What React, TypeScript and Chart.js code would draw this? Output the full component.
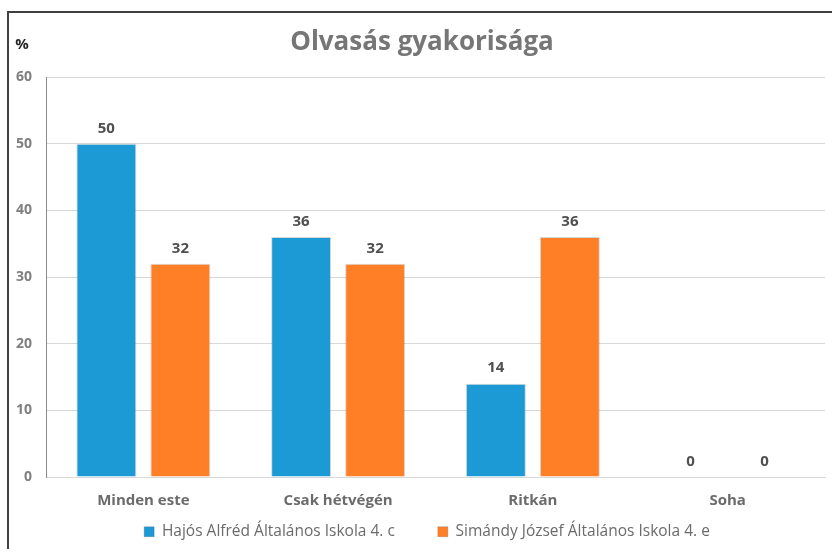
import React, { useEffect, useRef } from "react";
import { Chart, registerables } from "chart.js";

Chart.register(...registerables);

const categories = ["Minden este", "Csak hétvégén", "Ritkán", "Soha"];
const seriesNames = ["Hajós Alfréd Általános Iskola 4. c", "Simándy József Általános Iskola 4. e"];
const hajosValues = [50, 36, 14, 0];
const simandyValues = [32, 32, 36, 0];
const yTicks = [0, 10, 20, 30, 40, 50, 60];
const titleText = "Olvasás gyakorisága";
const yUnit = "%";

const FONT = "'Open Sans', 'Noto Sans', sans-serif";
const LEGEND_GAP = 43;
const LEGEND_HEIGHT = 35;
const LEGEND_TOP_PAD = 10;

const labelPlugin = {
  id: "valueLabels",
  afterInit(chart: any) {
    const lg = chart.legend;
    if (lg) {
      const orig = lg.fit;
      lg.fit = function () {
        orig.call(this);
        this.height = LEGEND_HEIGHT;
      };
    }
  },
  afterLayout(chart: any) {
    const lg = chart.legend;
    if (lg) {
      lg.top -= LEGEND_GAP - LEGEND_TOP_PAD;
      lg.left += 10;
      lg.right += 10;
    }
    const tb = chart.titleBlock;
    if (tb) {
      tb.left += 5;
      tb.right += 5;
    }
  },
  afterDatasetsDraw(chart: any) {
    const ctx = chart.ctx;
    ctx.save();
    ctx.font = `bold 15px ${FONT}`;
    ctx.fillStyle = "#505050";
    ctx.textAlign = "center";
    ctx.textBaseline = "bottom";
    chart.data.datasets.forEach((ds: any, di: number) => {
      const meta = chart.getDatasetMeta(di);
      meta.data.forEach((bar: any, i: number) => {
        ctx.fillText(String(ds.data[i]), bar.x, bar.y - 8);
      });
    });
    ctx.font = `bold 15px ${FONT}`;
    ctx.fillStyle = "#262626";
    ctx.textAlign = "center";
    ctx.textBaseline = "middle";
    ctx.fillText(yUnit, 13, 32);
    ctx.restore();
  },
};

export default function App() {
  const ref = useRef<HTMLCanvasElement>(null);
  useEffect(() => {
    document.body.style.overflow = "hidden";
    const chart = new Chart(ref.current!, {
      type: "bar",
      data: {
        labels: categories,
        datasets: [
          {
            label: seriesNames[0],
            data: hajosValues,
            backgroundColor: "#1B9AD6",
            borderColor: "rgba(90,90,90,0.25)",
            borderWidth: 1,
            categoryPercentage: 0.76,
            barPercentage: 0.81,
          },
          {
            label: seriesNames[1],
            data: simandyValues,
            backgroundColor: "#FF7F27",
            borderColor: "rgba(90,90,90,0.25)",
            borderWidth: 1,
            categoryPercentage: 0.76,
            barPercentage: 0.81,
          },
        ],
      },
      options: {
        responsive: false,
        animation: false,
        layout: { padding: { left: 0, right: 7, top: 0, bottom: 0 } },
        plugins: {
          title: {
            display: true,
            text: titleText,
            color: "#767676",
            font: { family: FONT, size: 26, weight: "bold" },
            padding: { top: 14, bottom: 19 },
          },
          legend: {
            position: "bottom",
            labels: {
              color: "#6b6b6b",
              font: { family: FONT, size: 15.5 },
              boxWidth: 10,
              boxHeight: 10,
              padding: LEGEND_GAP,
            },
          },
          tooltip: { enabled: false },
        },
        scales: {
          x: {
            afterFit(scale: any) {
              scale.height = 37;
            },
            grid: { display: false },
            border: { color: "#d9d9d9" },
            ticks: {
              color: "#6b6b6b",
              font: { family: FONT, size: 15, weight: "bold" },
              padding: 7,
            },
          },
          y: {
            min: 0,
            max: 60,
            afterFit(scale: any) {
              scale.width = 37;
            },
            afterBuildTicks(scale: any) {
              scale.ticks = yTicks.map((v) => ({ value: v }));
            },
            grid: { color: "#d9d9d9", drawTicks: false },
            border: { color: "#8c8c8c" },
            ticks: {
              color: "#7f7f7f",
              font: { family: FONT, size: 14, weight: "bold" },
              padding: 14,
            },
          },
        },
      },
      plugins: [labelPlugin],
    });
    return () => chart.destroy();
  }, []);
  return (
    <div
      style={{
        position: "absolute",
        left: 7,
        top: 11,
        width: 823,
        height: 538,
        borderLeft: "2px solid #404040",
        borderTop: "2px solid #404040",
        background: "#fff",
      }}
    >
      <canvas ref={ref} width={823} height={536} style={{ display: "block" }} />
    </div>
  );
}
